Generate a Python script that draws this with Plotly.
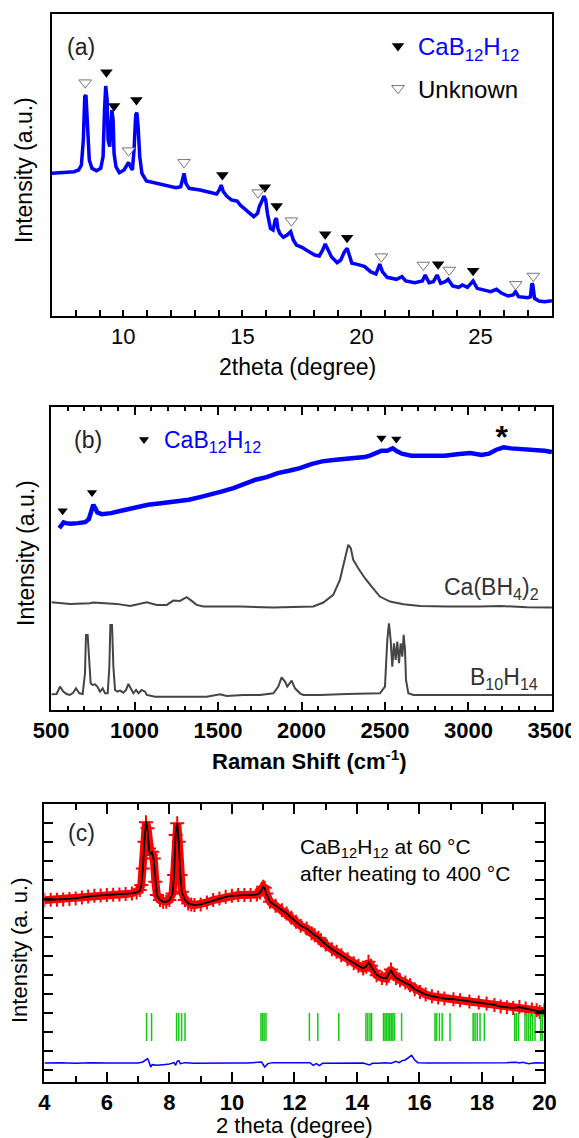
import plotly.graph_objects as go

# ---------------- Panel (a): XRD ----------------
a_x = [7.00, 7.47, 7.93, 8.12, 8.24, 8.32, 8.38, 8.43, 8.49, 8.57, 8.68, 8.87, 9.05, 9.15, 9.21, 9.26,
       9.32, 9.36, 9.43, 9.47, 9.52, 9.57, 9.61, 9.69, 9.83, 10.03, 10.16, 10.22, 10.30, 10.38, 10.45,
       10.52, 10.57, 10.62, 10.69, 10.78, 10.97, 11.36, 11.82, 12.21, 12.41, 12.51, 12.55, 12.63, 12.76,
       13.22, 13.69, 13.92, 14.03, 14.11, 14.20, 14.34, 14.55, 14.78, 14.91, 15.17, 15.48, 15.64, 15.71,
       15.84, 15.90, 15.98, 16.05, 16.18, 16.29, 16.38, 16.43, 16.49, 16.57, 16.72, 16.88, 17.03, 17.14,
       17.27, 17.50, 17.73, 18.04, 18.23, 18.36, 18.48, 18.59, 18.74, 18.98, 19.13, 19.29, 19.40, 19.49,
       19.60, 19.83, 20.14, 20.38, 20.61, 20.77, 20.88, 21.08, 21.47, 21.70, 21.86, 22.24, 22.56, 22.68,
       22.84, 23.02, 23.18, 23.33, 23.52, 23.64, 23.83, 24.08, 24.24, 24.45, 24.69, 24.86, 25.20, 25.43,
       25.67, 25.90, 26.16, 26.37, 26.47, 26.60, 26.99, 27.10, 27.16, 27.20, 27.27, 27.46, 27.69, 28.00]
a_y = [428, 430, 433, 438, 453, 528, 658, 663, 568, 468, 443, 436, 443, 478, 618, 690,
       648, 528, 508, 588, 618, 588, 488, 448, 430, 438, 453, 461, 448, 438, 498,
       603, 610, 568, 478, 428, 405, 398, 390, 385, 388, 418, 428, 398, 383,
       378, 370, 366, 378, 393, 373, 360, 348, 345, 333, 318, 298, 308, 328,
       348, 360, 348, 308, 263, 258, 288, 293, 263, 248, 236, 243, 253, 228,
       213, 206, 196, 183, 180, 196, 216, 200, 178, 160, 168, 193, 203, 183,
       158, 155, 148, 133, 126, 156, 133, 116, 110, 118, 105, 100, 105, 123,
       100, 103, 123, 98, 103, 110, 90, 86, 93, 86, 105, 83, 76, 73,
       80, 68, 60, 63, 73, 58, 55, 58, 98, 93, 53, 45, 43, 46]
a_known_x = [9.29, 9.61, 10.55, 14.16, 15.94, 16.44, 18.48, 19.40, 23.22, 24.69]
a_known_y = [731, 630, 648, 423, 386, 330, 245, 235, 155, 136]
a_unknown_x = [8.40, 10.22, 12.55, 15.66, 17.06, 20.84, 22.60, 23.69, 26.48, 27.22]
a_unknown_y = [700, 496, 461, 370, 286, 178, 153, 138, 95, 120]
a_ticks = [10, 15, 20, 25]

# ---------------- Panel (b): Raman ----------------
b_x = [549, 560, 575, 589, 615, 660, 704, 726, 742, 753, 764, 777, 804, 859, 926, 993, 1081, 1170,
       1259, 1325, 1392, 1459, 1525, 1592, 1658, 1725, 1791, 1858, 1925, 1991, 2058, 2124, 2191,
       2257, 2324, 2379, 2413, 2446, 2479, 2513, 2546, 2573, 2601, 2657, 2746, 2857, 2945, 3012,
       3078, 3123, 3167, 3211, 3256, 3322, 3389, 3456, 3500]
b_y = [545, 552, 562, 560, 558, 560, 563, 572, 600, 615, 605, 592, 587, 590, 598, 605, 615, 620,
       625, 630, 638, 645, 655, 665, 677, 690, 698, 710, 717, 725, 737, 745, 749,
       752, 755, 758, 763, 770, 777, 777, 784, 775, 768, 762, 762, 762, 767, 770,
       764, 768, 780, 787, 784, 782, 780, 777, 773]
cabh_x = [503, 613, 733, 753, 893, 973, 1073, 1133, 1193, 1232, 1272, 1312, 1342, 1372, 1412,
          1632, 1831, 1991, 2071, 2131, 2190, 2230, 2260, 2280, 2295, 2310, 2340, 2380, 2420,
          2470, 2530, 2610, 2710, 2870, 3069, 3189, 3350, 3500]
cabh_y = [323, 318, 320, 322, 318, 312, 323, 315, 315, 328, 327, 338, 327, 315, 310,
          310, 307, 310, 310, 322, 345, 390, 450, 495, 485, 450, 425, 395, 370,
          340, 325, 317, 312, 310, 310, 312, 308, 307]
b10_x = [503, 533, 553, 573, 593, 613, 633, 649, 669, 689, 703, 709, 719, 727, 737, 749, 763, 777,
         793, 809, 823, 839, 849, 855, 865, 873, 883, 897, 913, 933, 949, 963, 977, 993, 1009,
         1023, 1043, 1063, 1073, 1123, 1232, 1432, 1512, 1552, 1651, 1751, 1831, 1861, 1881, 1901,
         1915, 1941, 1961, 1991, 2011, 2111, 2271, 2470, 2500, 2514, 2524, 2534, 2544, 2554, 2564,
         2574, 2584, 2594, 2604, 2612, 2620, 2626, 2640, 2670, 2870, 3069, 3249, 3500]
b10_y = [47, 48, 70, 55, 48, 45, 52, 65, 50, 48, 110, 225, 225, 160, 80, 75, 77, 70,
         55, 65, 50, 50, 130, 255, 255, 130, 60, 55, 58, 52, 60, 78, 65, 50, 60,
         50, 60, 55, 45, 40, 40, 40, 47, 42, 45, 45, 50, 70, 98, 85,
         70, 88, 65, 50, 45, 45, 48, 50, 70, 210, 260, 210, 130, 200, 150,
         205, 140, 200, 160, 225, 180, 90, 50, 45, 45, 45, 45, 45]
b_mark_x = [569, 745, 2479, 2568]
b_mark_y = [597, 652, 815, 812]
b_star_x = [3200]
b_star_y = [808]
b_ticks = [500, 1000, 1500, 2000, 2500, 3000, 3500]

# ---------------- Panel (c): Rietveld ----------------
c_x = [4.0, 4.2, 4.4, 4.6, 4.8, 5.0, 5.2, 5.4, 5.6, 5.8, 6.0, 6.2, 6.4, 6.6, 6.8, 6.95, 7.05, 7.1,
       7.15, 7.2, 7.25, 7.3, 7.35, 7.4, 7.45, 7.5, 7.55, 7.6, 7.7, 7.8, 7.9, 8.0, 8.1, 8.15, 8.2,
       8.25, 8.3, 8.35, 8.4, 8.5, 8.6, 8.7, 8.8, 9.0, 9.2, 9.4, 9.6, 9.8, 10.0, 10.2, 10.4, 10.6,
       10.8, 10.9, 10.95, 11.0, 11.05, 11.1, 11.22, 11.4, 11.6, 11.75, 11.9, 12.05, 12.2, 12.39,
       12.55, 12.65, 12.77, 12.85, 13.0, 13.2, 13.35, 13.5, 13.7, 13.9, 14.05, 14.2, 14.3, 14.37,
       14.45, 14.55, 14.63, 14.8, 14.95, 15.02, 15.09, 15.15, 15.25, 15.38, 15.55, 15.7, 15.85,
       16.02, 16.2, 16.4, 16.6, 16.8, 17.09, 17.3, 17.6, 17.9, 18.15, 18.4, 18.6, 18.8, 19.0,
       19.2, 19.4, 19.6, 19.75, 19.85, 20.0]
c_obs = [545, 546, 546, 547, 548, 550, 553, 556, 558, 559, 560, 561, 562, 563, 565, 568, 575, 590,
         640, 720, 778, 760, 700, 680, 690, 670, 600, 560, 545, 540, 540, 545, 565, 620, 740,
         775, 720, 620, 570, 545, 535, 532, 530, 532, 538, 545, 550, 555, 558, 560, 560, 560,
         562, 568, 576, 585, 582, 565, 540, 528, 515, 505, 492, 480, 468, 460,
         446, 440, 432, 425, 412, 398, 390, 380, 368, 356, 348, 340, 345, 360,
         348, 333, 320, 312, 310, 325, 337, 325, 312, 305, 298, 290, 278,
         270, 262, 257, 253, 250, 248, 245, 241, 238, 235, 231, 226, 224, 222,
         225, 220, 217, 215, 210, 215]
c_calc = [545, 546, 546, 547, 548, 550, 553, 556, 558, 559, 560, 561, 562, 563, 565, 568, 573, 588,
          635, 722, 782, 755, 695, 684, 688, 665, 598, 558, 545, 540, 540, 545, 563, 622, 745,
          776, 718, 618, 568, 545, 535, 532, 530, 532, 538, 545, 550, 555, 558, 560, 560, 560,
          562, 567, 575, 584, 580, 564, 540, 528, 515, 505, 492, 480, 468, 460,
          446, 440, 433, 425, 412, 398, 390, 380, 368, 356, 348, 341, 346, 358,
          347, 333, 321, 312, 311, 324, 335, 324, 312, 305, 297, 290, 278,
          270, 262, 257, 253, 250, 248, 245, 241, 238, 235, 231, 226, 224, 222,
          224, 220, 217, 215, 211, 214]
c_diff_x = [4.0, 4.5, 5.0, 5.5, 6.0, 6.5, 7.0, 7.15, 7.25, 7.3, 7.35, 7.4, 7.45, 7.6, 7.8, 8.0,
            8.15, 8.2, 8.25, 8.3, 8.35, 8.5, 8.8, 9.2, 9.6, 10.0, 10.5, 10.85, 10.95, 11.05,
            11.15, 11.3, 11.8, 12.3, 12.5, 12.6, 12.7, 12.8, 12.9, 13.3, 13.8, 14.2, 14.4, 14.5,
            14.7, 14.9, 15.1, 15.25, 15.35, 15.45, 15.55, 15.7, 15.75, 15.85, 15.95, 16.3, 16.8,
            17.3, 17.8, 18.3, 18.8, 19.1, 19.2, 19.3, 19.5, 19.7, 20.0]
c_diff = [57, 58, 56, 58, 57, 58, 57, 60, 68, 70, 60, 45, 52, 50, 52, 54,
          58, 50, 62, 64, 55, 58, 56, 57, 56, 57, 57, 58, 60, 45,
          55, 58, 57, 58, 58, 50, 55, 49, 56, 57, 57, 57, 51, 56,
          56, 58, 56, 62, 58, 64, 66, 78, 80, 66, 58, 57, 57,
          56, 57, 57, 58, 59, 57, 59, 55, 58, 57]
c_refl = [7.27, 7.43, 8.23, 8.30, 8.39, 8.50, 10.93, 10.98, 11.03, 11.09, 12.48, 12.75, 13.42,
          14.29, 14.35, 14.42, 14.47, 14.85, 14.90, 14.95, 15.00, 15.05, 15.10, 15.15, 15.20, 15.43,
          16.50, 16.55, 16.64, 16.73, 16.98, 17.72, 17.78, 17.85, 17.94, 18.08,
          19.05, 19.10, 19.17, 19.38, 19.44, 19.50, 19.56, 19.62, 19.70, 19.88, 19.93]
c_refl_level = 165
c_ticks = [4, 6, 8, 10, 12, 14, 16, 18, 20]

# ---------------- figure ----------------
# the page body adds an 8 px margin, so the figure is 8 px smaller on each axis
OFF = 8
W, H = 579 - OFF, 1138 - OFF
FONT = "Liberation Sans, Arial, sans-serif"
BLUE = "#0000ff"

def px(x):
    return (x - OFF) / W

def py(y):
    return 1 - (y - OFF) / H

fig = go.Figure()

# panel (a)
fig.add_trace(go.Scatter(x=a_x, y=a_y, mode="lines", line=dict(color=BLUE, width=3.5),
                         xaxis="x", yaxis="y", showlegend=False, hoverinfo="skip"))
fig.add_trace(go.Scatter(x=a_known_x, y=a_known_y, mode="markers", xaxis="x", yaxis="y",
                         marker=dict(symbol="triangle-down", size=11, color="black"),
                         name='<span style="color:#0000ff">CaB<sub>12</sub>H<sub>12</sub></span>',
                         legend="legend", legendgroup="k"))
fig.add_trace(go.Scatter(x=a_unknown_x, y=a_unknown_y, mode="markers", xaxis="x", yaxis="y",
                         marker=dict(symbol="triangle-down", size=11, color="white",
                                     line=dict(color="#777777", width=1)),
                         name="Unknown", legend="legend", legendgroup="u"))

# panel (b)
fig.add_trace(go.Scatter(x=cabh_x, y=cabh_y, mode="lines", line=dict(color="#454545", width=2),
                         xaxis="x2", yaxis="y2", showlegend=False))
fig.add_trace(go.Scatter(x=b10_x, y=b10_y, mode="lines", line=dict(color="#454545", width=2),
                         xaxis="x2", yaxis="y2", showlegend=False))
fig.add_trace(go.Scatter(x=b_x, y=b_y, mode="lines", line=dict(color=BLUE, width=4.5),
                         xaxis="x2", yaxis="y2", showlegend=False))
fig.add_trace(go.Scatter(x=b_mark_x, y=b_mark_y, mode="markers", xaxis="x2", yaxis="y2",
                         marker=dict(symbol="triangle-down", size=9, color="black"),
                         name="CaB<sub>12</sub>H<sub>12</sub>", legend="legend2"))
fig.add_trace(go.Scatter(x=b_star_x, y=b_star_y, mode="text", text=["*"], xaxis="x2", yaxis="y2",
                         textfont=dict(size=32, color="black", family=FONT, weight="bold"),
                         showlegend=False))

# panel (c)
fig.add_trace(go.Scatter(x=c_x, y=c_obs, mode="lines+markers", xaxis="x3", yaxis="y3",
                         line=dict(color="#ff0000", width=8),
                         marker=dict(symbol="cross-thin", size=10,
                                     line=dict(color="#ff0000", width=2)),
                         showlegend=False))
fig.add_trace(go.Scatter(x=c_x, y=c_calc, mode="lines", xaxis="x3", yaxis="y3",
                         line=dict(color="black", width=1.8), showlegend=False))
fig.add_trace(go.Scatter(x=c_refl, y=[c_refl_level] * len(c_refl), mode="markers",
                         xaxis="x3", yaxis="y3",
                         marker=dict(symbol="line-ns", size=20,
                                     line=dict(color="#14c814", width=1.5)),
                         showlegend=False))
fig.add_trace(go.Scatter(x=c_diff_x, y=c_diff, mode="lines", xaxis="x3", yaxis="y3",
                         line=dict(color=BLUE, width=1.5), showlegend=False))

axis_common = dict(showline=True, linecolor="black", linewidth=2, mirror=True,
                   showgrid=False, zeroline=False, automargin=False)

fig.update_layout(
    width=W, height=H, autosize=False,
    margin=dict(l=0, r=0, t=0, b=0, pad=0),
    paper_bgcolor="white", plot_bgcolor="white",
    font=dict(family=FONT, color="black"),
    # panel (a)
    xaxis=dict(domain=[px(51.9), px(551.9)], range=[7, 28], anchor="y",
               tickvals=a_ticks, ticks="inside", ticklen=6, tickwidth=1.5, tickcolor="black",
               minor=dict(dtick=1, tick0=0, ticks="inside", ticklen=6, tickwidth=1.5,
                          tickcolor="black"),
               tickfont=dict(size=22, family=FONT, color="black"), **axis_common),
    yaxis=dict(domain=[py(316), py(14)], range=[0, 906], anchor="x",
               showticklabels=False, ticks="", **axis_common),
    # panel (b)
    xaxis2=dict(domain=[px(51.1), px(551.9)], range=[500, 3500], anchor="y2",
                tickvals=b_ticks, ticks="inside", ticklen=8, tickwidth=1.5, tickcolor="black",
                minor=dict(dtick=100, tick0=0, ticks="inside", ticklen=4, tickwidth=1.5,
                           tickcolor="black"),
                tickfont=dict(size=22, family=FONT, color="black", weight="bold"),
                showline=True, linecolor="black", linewidth=2, mirror="ticks",
                showgrid=False, zeroline=False, automargin=False),
    yaxis2=dict(domain=[py(710), py(407)], range=[0, 908], anchor="x2",
                showticklabels=False, ticks="", **axis_common),
    # panel (c)
    xaxis3=dict(domain=[px(44.4), px(544.4)], range=[4, 20], anchor="y3",
                tickvals=c_ticks, ticks="inside", ticklen=10, tickwidth=1.5, tickcolor="black",
                minor=dict(dtick=1, tick0=0, ticks="inside", ticklen=6, tickwidth=1.5,
                           tickcolor="black"),
                tickfont=dict(size=22, family=FONT, color="black", weight="bold"),
                showline=True, linecolor="black", linewidth=2, mirror="ticks",
                showgrid=False, zeroline=False, automargin=False),
    yaxis3=dict(domain=[py(1082), py(804)], range=[0, 833], anchor="x3",
                tick0=37, dtick=56.8, ticks="inside", ticklen=9, tickwidth=1.5,
                tickcolor="black", showticklabels=False,
                showline=True, linecolor="black", linewidth=2, mirror="ticks",
                showgrid=False, zeroline=False, automargin=False),
    legend=dict(x=px(378), y=py(24), xanchor="left", yanchor="top",
                bgcolor="rgba(0,0,0,0)", borderwidth=0, tracegroupgap=8,
                font=dict(size=24, family=FONT, color="black"), itemwidth=30),
    legend2=dict(x=px(124), y=py(418), xanchor="left", yanchor="top",
                 bgcolor="rgba(0,0,0,0)", borderwidth=0,
                 font=dict(size=23, family=FONT, color=BLUE), itemwidth=30),
)

def note(text, x, y, size, xanchor="center", angle=0, color="black", bold=False, align="center"):
    fig.add_annotation(text=text, x=px(x), y=py(y), xref="paper", yref="paper",
                       xanchor=xanchor, yanchor="middle", showarrow=False, textangle=angle,
                       align=align,
                       font=dict(size=size, family=FONT, color=color,
                                 weight="bold" if bold else "normal"))

# panel labels
note("(a)", 81, 47, 23, color="#222222")
note("(b)", 88, 440, 23, color="#222222")
note("(c)", 82, 833, 23, color="#1b2636")

# axis titles
note("Intensity (a.u.)", 24, 170, 23, angle=-90)
note("2theta (degree)", 297, 367, 23)
note("Intensity (a.u.)", 26, 553, 23, angle=-90)
note("Raman Shift (cm<sup>-1</sup>)", 309, 760, 22, bold=True)
note("Intensity (a. u.)", 19, 950, 22, angle=-90)
note("2 theta (degree)", 294, 1125, 22)

# curve labels in (b)
note("Ca(BH<sub>4</sub>)<sub>2</sub>", 541, 588, 23, xanchor="right", color="#333333")
note("B<sub>10</sub>H<sub>14</sub>", 540, 678, 23, xanchor="right", color="#333333")

# sample note in (c)
note("CaB<sub>12</sub>H<sub>12</sub> at 60 °C<br>after heating to 400 °C", 298, 860, 21,
     xanchor="left", align="left")

fig.write_html("out.html")
